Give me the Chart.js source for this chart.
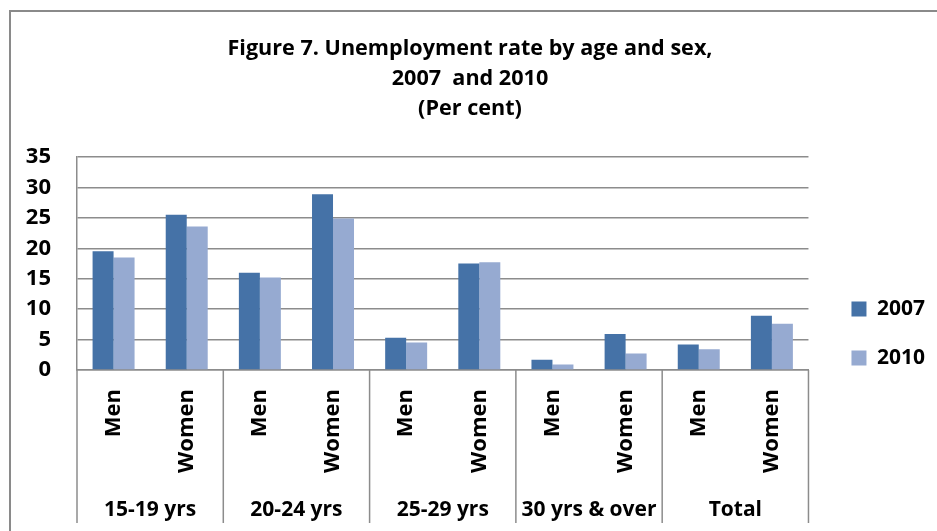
<!DOCTYPE html>
<html>
<head>
<meta charset="utf-8">
<script src="https://cdn.jsdelivr.net/npm/chart.js@4.4.1/dist/chart.umd.min.js"></script>
<style>
  html, body { margin: 0; padding: 0; background: #fff; }
  #wrap { position: relative; width: 937px; height: 531px; }
  #frame { position: absolute; left: 9px; top: 10px; width: 940px; height: 540px;
           border-left: 2px solid #8a8a8a; border-top: 2px solid #8a8a8a; }
  canvas { position: absolute; left: 0; top: 0; }
</style>
</head>
<body>
<div id="wrap">
  <div id="frame"></div>
  <canvas id="chart" width="937" height="531"></canvas>
</div>
<script>
// Data
const groups = ["15-19 yrs", "20-24 yrs", "25-29 yrs", "30 yrs & over", "Total"];
const sexes = ["Men", "Women"];
const labels = groups.flatMap(() => sexes);
const rate2007 = [19.5, 25.5, 16.0, 28.9, 5.3, 17.5, 1.7, 5.9, 4.2, 8.9];
const rate2010 = [18.5, 23.6, 15.2, 24.9, 4.5, 17.7, 0.9, 2.7, 3.4, 7.6];
const yTicks = { min: 0, max: 35, step: 5 };

const FONT = "'Open Sans', sans-serif";
const gridGray = "#8c8c8c";

// Vertical separators between groups, below the plot area
const groupLines = {
  id: 'groupLines',
  afterDraw(chart) {
    const x = chart.scales.x;
    const ctx = chart.ctx;
    const xs = [x.left];
    for (let g = 1; g < groups.length; g++) {
      xs.push((x.getPixelForValue(g * 2 - 1) + x.getPixelForValue(g * 2)) / 2);
    }
    xs.push(x.right);
    ctx.save();
    ctx.strokeStyle = gridGray;
    ctx.lineWidth = 1.5;
    xs.forEach(px => {
      ctx.beginPath();
      ctx.moveTo(px, chart.chartArea.bottom);
      ctx.lineTo(px, 523);
      ctx.stroke();
    });
    ctx.restore();
  }
};

// Legend sits lower and a bit further right than Chart.js puts it
const legendShift = {
  id: 'legendShift',
  afterLayout(chart) {
    const lg = chart.legend;
    const dx = 15, dy = 68;
    lg.left += dx; lg.right += dx;
    lg.top += dy; lg.bottom += dy;
  }
};

new Chart(document.getElementById('chart'), {
  type: 'bar',
  data: {
    labels: labels,
    datasets: [
      { label: '2007', data: rate2007, backgroundColor: '#4572a7' },
      { label: '2010', data: rate2010, backgroundColor: '#96aad1' }
    ]
  },
  options: {
    responsive: false,
    animation: false,
    layout: { padding: { left: 20, right: 17, top: 0, bottom: 0 } },
    datasets: { bar: { categoryPercentage: 0.574, barPercentage: 1 } },
    plugins: {
      title: {
        display: true,
        text: ['Figure 7. Unemployment rate by age and sex,', '2007  and 2010', '(Per cent)'],
        color: '#000',
        font: { family: FONT, size: 21.6, weight: 'bold', lineHeight: 1.39 },
        padding: { top: 34, bottom: 33 }
      },
      legend: {
        position: 'right',
        align: 'center',
        labels: {
          color: '#000',
          font: { family: FONT, size: 21, weight: 'bold' },
          boxWidth: 15,
          boxHeight: 15,
          padding: 28
        }
      },
      tooltip: { enabled: false }
    },
    scales: {
      y: {
        min: yTicks.min,
        max: yTicks.max,
        afterFit(scale) { scale.width = 57; },
        ticks: {
          stepSize: yTicks.step,
          color: '#000',
          padding: 26,
          font: { family: FONT, size: 22, weight: 'bold' }
        },
        grid: { color: gridGray, lineWidth: 1.5, drawTicks: false },
        border: { color: gridGray, width: 1.5 }
      },
      x: {
        weight: 0,
        afterFit(scale) { scale.height = 124; },
        ticks: {
          color: '#000',
          minRotation: 90,
          maxRotation: 90,
          autoSkip: false,
          padding: 19,
          font: { family: FONT, size: 22, weight: 'bold' }
        },
        grid: { display: false, drawTicks: false },
        border: { color: gridGray, width: 1.5 }
      },
      xg: {
        type: 'category',
        position: 'bottom',
        labels: groups,
        offset: true,
        weight: 1,
        afterFit(scale) { scale.height = 37; },
        ticks: {
          color: '#000',
          maxRotation: 0,
          autoSkip: false,
          padding: 3,
          font: { family: FONT, size: 21, weight: 'bold' }
        },
        grid: { display: false, drawTicks: false },
        border: { display: false }
      }
    }
  },
  plugins: [groupLines, legendShift]
});
</script>
</body>
</html>
